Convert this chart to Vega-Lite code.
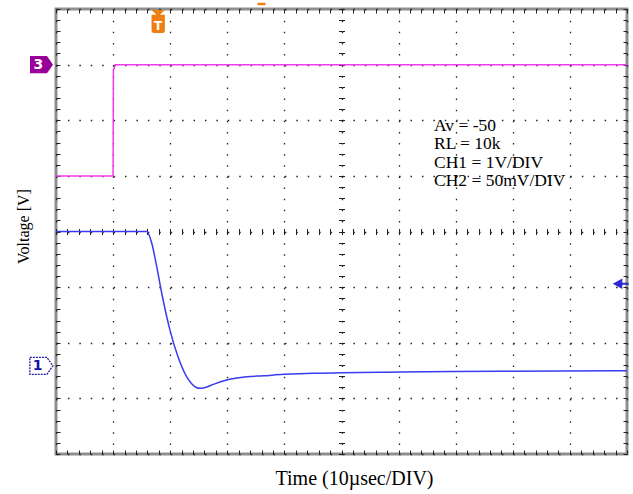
{
  "$schema": "https://vega.github.io/schema/vega-lite/v6.json",
  "width": 571,
  "height": 445,
  "autosize": {"type": "none"},
  "padding": {"left": 56, "top": 9, "right": 6, "bottom": 40},
  "background": "white",
  "config": {"view": {"stroke": "#8f8f8f", "strokeWidth": 3}, "font": "Liberation Serif"},
  "datasets": {
    "ch3": [
      {"t": 0, "v": 1}, {"t": 10.0, "v": 1}, {"t": 10.05, "v": 2.9}, {"t": 10.4, "v": 3}, {"t": 100, "v": 3}
    ],
    "ch1": [
      {"t": 0, "v": 0}, {"t": 15.9, "v": 0}, {"t": 16.76, "v": -0.207}, {"t": 17.64, "v": -0.633},
      {"t": 18.51, "v": -1.106}, {"t": 19.96, "v": -1.772}, {"t": 21.37, "v": -2.252}, {"t": 22.89, "v": -2.612},
      {"t": 23.8, "v": -2.74}, {"t": 24.6, "v": -2.805}, {"t": 25.2, "v": -2.82}, {"t": 26.0, "v": -2.81},
      {"t": 27.55, "v": -2.748}, {"t": 29.9, "v": -2.671}, {"t": 33.4, "v": -2.612}, {"t": 36.3, "v": -2.594},
      {"t": 39.81, "v": -2.568}, {"t": 45.06, "v": -2.55}, {"t": 60.25, "v": -2.527}, {"t": 77.76, "v": -2.514},
      {"t": 100, "v": -2.504}
    ],
    "notes": [
      {"t": 66.2, "v": 1.807, "label": "Av = -50"},
      {"t": 66.2, "v": 1.478, "label": "RL = 10k"},
      {"t": 66.2, "v": 1.147, "label": "CH1 = 1V/DIV"},
      {"t": 66.2, "v": 0.818, "label": "CH2 = 50mV/DIV"}
    ]
  },
  "layer": [
    {
      "data": {"name": "ch3"},
      "mark": {"type": "line", "color": "#ee3cee", "strokeWidth": 1.5},
      "encoding": {
        "x": {"field": "t", "type": "quantitative", "scale": {"domain": [0, 100], "nice": false, "zero": false},
          "axis": {"orient": "bottom", "values": [0,10,20,30,40,50,60,70,80,90,100], "grid": true, "gridDash": [1.5, 9.625],
            "gridColor": "#222", "gridWidth": 1.3, "gridOpacity": 1, "ticks": false, "labels": false, "domain": false,
            "title": "Time (10µsec/DIV)", "titleFont": "Liberation Serif", "titleFontSize": 20, "titleFontWeight": "normal",
            "titleColor": "black", "titleX": 298, "titleY": 30, "titleBaseline": "alphabetic", "titleAlign": "center"}},
        "y": {"field": "v", "type": "quantitative", "scale": {"domain": [-4, 4], "nice": false, "zero": false},
          "axis": {"orient": "left", "values": [-4,-3,-2,-1,0,1,2,3,4], "grid": true, "gridDash": [1.5, 9.92],
            "gridColor": "#222", "gridWidth": 1.3, "gridOpacity": 1, "ticks": false, "labels": false, "domain": false,
            "title": "Voltage [V]", "titleFont": "Liberation Serif", "titleFontSize": 16, "titleFontWeight": "normal",
            "titleColor": "black", "titleX": -28, "titleY": 217, "titleBaseline": "alphabetic", "titleAlign": "center", "titleAngle": -90}}
      }
    },
    {
      "data": {"name": "ch1"},
      "mark": {"type": "line", "color": "#3a3af0", "strokeWidth": 1.5, "interpolate": "monotone"},
      "encoding": {
        "x": {"field": "t", "type": "quantitative", "scale": {"domain": [0, 100], "nice": false, "zero": false},
          "axis": {"orient": "bottom", "values": [0,2,4,6,8,10,12,14,16,18,20,22,24,26,28,30,32,34,36,38,40,42,44,46,48,50,52,54,56,58,60,62,64,66,68,70,72,74,76,78,80,82,84,86,88,90,92,94,96,98,100],
            "grid": false, "ticks": true, "tickSize": -4, "tickColor": "#222", "tickWidth": 1, "labels": false, "domain": false, "title": null}},
        "y": {"field": "v", "type": "quantitative", "scale": {"domain": [-4, 4], "nice": false, "zero": false},
          "axis": {"orient": "left", "values": [-4,-3.8,-3.6,-3.4,-3.2,-3,-2.8,-2.6,-2.4,-2.2,-2,-1.8,-1.6,-1.4,-1.2,-1,-0.8,-0.6,-0.4,-0.2,0,0.2,0.4,0.6,0.8,1,1.2,1.4,1.6,1.8,2,2.2,2.4,2.6,2.8,3,3.2,3.4,3.6,3.8,4],
            "grid": false, "ticks": true, "tickSize": -4, "tickColor": "#222", "tickWidth": 1, "labels": false, "domain": false, "title": null}}
      }
    },
    {
      "data": {"name": "notes"},
      "mark": {"type": "text", "font": "Liberation Serif", "fontSize": 17.5, "align": "left", "baseline": "alphabetic", "color": "black"},
      "encoding": {
        "x": {"field": "t", "type": "quantitative", "scale": {"domain": [0, 100], "nice": false, "zero": false},
          "axis": {"orient": "top", "values": [0,2,4,6,8,10,12,14,16,18,20,22,24,26,28,30,32,34,36,38,40,42,44,46,48,50,52,54,56,58,60,62,64,66,68,70,72,74,76,78,80,82,84,86,88,90,92,94,96,98,100],
            "grid": false, "ticks": true, "tickSize": -4, "tickColor": "#222", "tickWidth": 1, "labels": false, "domain": false, "title": null}},
        "y": {"field": "v", "type": "quantitative", "scale": {"domain": [-4, 4], "nice": false, "zero": false},
          "axis": {"orient": "right", "values": [-4,-3.8,-3.6,-3.4,-3.2,-3,-2.8,-2.6,-2.4,-2.2,-2,-1.8,-1.6,-1.4,-1.2,-1,-0.8,-0.6,-0.4,-0.2,0,0.2,0.4,0.6,0.8,1,1.2,1.4,1.6,1.8,2,2.2,2.4,2.6,2.8,3,3.2,3.4,3.6,3.8,4],
            "grid": false, "ticks": true, "tickSize": -4, "tickColor": "#222", "tickWidth": 1, "labels": false, "domain": false, "title": null}},
        "text": {"field": "label"}
      }
    },
    {
      "data": {"values": [{"t": -2.54, "v": 3}]},
      "mark": {"type": "point", "shape": "M-1,-0.74 L0.48,-0.74 L1,0 L0.48,0.74 L-1,0.74 Z", "size": 529, "filled": true, "color": "#990099", "opacity": 1},
      "encoding": {
        "x": {"field": "t", "type": "quantitative", "scale": {"domain": [0, 100], "nice": false, "zero": false},
          "axis": {"orient": "bottom", "offset": -225.5, "values": [0,2,4,6,8,10,12,14,16,18,20,22,24,26,28,30,32,34,36,38,40,42,44,46,48,50,52,54,56,58,60,62,64,66,68,70,72,74,76,78,80,82,84,86,88,90,92,94,96,98,100],
            "grid": false, "ticks": true, "tickSize": 6, "tickColor": "#222", "tickWidth": 1, "labels": false, "domain": false, "title": null}},
        "y": {"field": "v", "type": "quantitative", "scale": {"domain": [-4, 4], "nice": false, "zero": false},
          "axis": {"orient": "left", "offset": -288.5, "values": [-4,-3.8,-3.6,-3.4,-3.2,-3,-2.8,-2.6,-2.4,-2.2,-2,-1.8,-1.6,-1.4,-1.2,-1,-0.8,-0.6,-0.4,-0.2,0,0.2,0.4,0.6,0.8,1,1.2,1.4,1.6,1.8,2,2.2,2.4,2.6,2.8,3,3.2,3.4,3.6,3.8,4],
            "grid": false, "ticks": true, "tickSize": 6, "tickColor": "#222", "tickWidth": 1, "labels": false, "domain": false, "title": null}}
      }
    },
    {
      "data": {"values": [{"t": -3.07, "v": 3, "label": "3"}]},
      "mark": {"type": "text", "font": "DejaVu Sans", "fontWeight": "bold", "fontSize": 14, "color": "white", "align": "center", "baseline": "middle"},
      "encoding": {
        "x": {"field": "t", "type": "quantitative", "scale": {"domain": [0, 100], "nice": false, "zero": false}, "axis": null},
        "y": {"field": "v", "type": "quantitative", "scale": {"domain": [-4, 4], "nice": false, "zero": false}, "axis": null},
        "text": {"field": "label"}
      }
    },
    {
      "data": {"values": [{"t": -2.56, "v": -2.415}]},
      "mark": {"type": "point", "shape": "M-1,-0.74 L0.48,-0.74 L1,0 L0.48,0.74 L-1,0.74 Z", "size": 529, "filled": true, "fill": "white", "stroke": "#2020a0", "strokeWidth": 1.3, "strokeDash": [2, 1], "opacity": 1, "fillOpacity": 1},
      "encoding": {
        "x": {"field": "t", "type": "quantitative", "scale": {"domain": [0, 100], "nice": false, "zero": false}, "axis": null},
        "y": {"field": "v", "type": "quantitative", "scale": {"domain": [-4, 4], "nice": false, "zero": false}, "axis": null}
      }
    },
    {
      "data": {"values": [{"t": -3.2, "v": -2.415, "label": "1"}]},
      "mark": {"type": "text", "font": "DejaVu Sans", "fontWeight": "bold", "fontSize": 14, "color": "#1414a0", "align": "center", "baseline": "middle"},
      "encoding": {
        "x": {"field": "t", "type": "quantitative", "scale": {"domain": [0, 100], "nice": false, "zero": false}, "axis": null},
        "y": {"field": "v", "type": "quantitative", "scale": {"domain": [-4, 4], "nice": false, "zero": false}, "axis": null},
        "text": {"field": "label"}
      }
    },
    {
      "data": {"values": [{"t": 17.9, "v": 3.777}]},
      "mark": {"type": "point", "shape": "M-0.58,-1 L0.58,-1 L0.15,-0.58 L0.58,-0.58 L0.58,0.85 L0.45,1 L-0.45,1 L-0.58,0.85 L-0.58,-0.58 L-0.15,-0.58 Z", "size": 529, "filled": true, "color": "#f07f12", "opacity": 1},
      "encoding": {
        "x": {"field": "t", "type": "quantitative", "scale": {"domain": [0, 100], "nice": false, "zero": false}, "axis": null},
        "y": {"field": "v", "type": "quantitative", "scale": {"domain": [-4, 4], "nice": false, "zero": false}, "axis": null}
      }
    },
    {
      "data": {"values": [{"t": 17.9, "v": 3.70, "label": "T"}]},
      "mark": {"type": "text", "font": "DejaVu Sans", "fontWeight": "bold", "fontSize": 12, "color": "white", "align": "center", "baseline": "middle"},
      "encoding": {
        "x": {"field": "t", "type": "quantitative", "scale": {"domain": [0, 100], "nice": false, "zero": false}, "axis": null},
        "y": {"field": "v", "type": "quantitative", "scale": {"domain": [-4, 4], "nice": false, "zero": false}, "axis": null},
        "text": {"field": "label"}
      }
    },
    {
      "data": {"values": [{"t": 98.9, "v": -0.939}]},
      "mark": {"type": "point", "shape": "M-1,0 L0.2,-0.65 L0.2,-0.12 L1,-0.12 L1,0.12 L0.2,0.12 L0.2,0.65 Z", "size": 256, "filled": true, "color": "#2a2ad0", "opacity": 1},
      "encoding": {
        "x": {"field": "t", "type": "quantitative", "scale": {"domain": [0, 100], "nice": false, "zero": false}, "axis": null},
        "y": {"field": "v", "type": "quantitative", "scale": {"domain": [-4, 4], "nice": false, "zero": false}, "axis": null}
      }
    },
    {
      "data": {"values": [{"t": 36.0, "v": 4.09}]},
      "mark": {"type": "point", "shape": "M-1,-0.3 L1,-0.3 L1,0.3 L-1,0.3 Z", "size": 64, "filled": true, "color": "#f07f12", "opacity": 1},
      "encoding": {
        "x": {"field": "t", "type": "quantitative", "scale": {"domain": [0, 100], "nice": false, "zero": false}, "axis": null},
        "y": {"field": "v", "type": "quantitative", "scale": {"domain": [-4, 4], "nice": false, "zero": false}, "axis": null}
      }
    }
  ],
  "resolve": {"axis": {"x": "independent", "y": "independent"}}
}
